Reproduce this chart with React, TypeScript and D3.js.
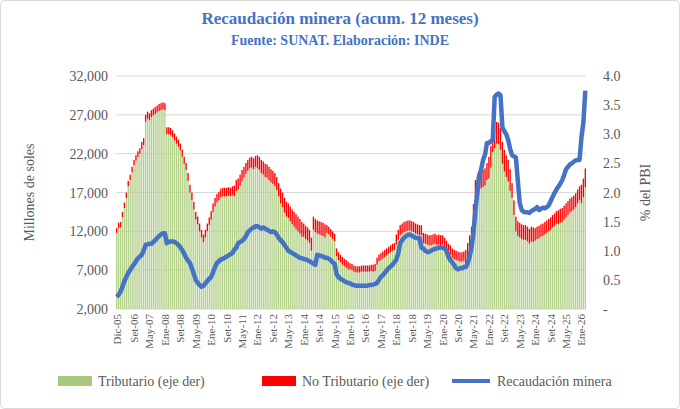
import React from "react";
import * as d3 from "d3";

const MES = ["Ene","Feb","Mar","Abr","May","Jun","Jul","Ago","Set","Oct","Nov","Dic"];
// Total (millones de soles, en miles) from Dic-05 to Mar-26
const totalK: number[] = [
  12.4,
  13.1,13.2,14.5,15.7,17.0,18.5,19.3,20.3,21.2,21.8,22.3,22.7,
  23.5,24.0,27.0,27.4,27.2,27.6,27.8,28.0,28.2,28.4,28.5,28.6,
  28.5,25.4,25.4,25.3,25.0,24.6,24.2,23.8,23.3,22.5,21.6,20.8,
  19.5,18.0,17.0,15.8,14.5,13.9,13.0,12.2,11.6,12.2,13.0,13.8,
  14.6,15.6,16.3,16.8,17.1,17.5,17.6,17.6,17.6,17.7,17.6,17.8,
  17.9,18.6,18.8,19.3,19.9,20.3,20.8,21.2,21.5,21.6,21.4,21.7,
  21.8,21.6,21.2,21.0,20.7,20.6,20.3,20.0,19.8,19.5,19.0,18.2,
  17.5,17.0,16.3,15.8,15.6,15.2,14.8,14.5,14.2,13.9,13.6,13.2,
  13.0,12.7,12.5,12.2,11.2,13.9,13.6,13.4,13.3,13.2,13.1,12.9,
  12.8,12.6,12.3,12.0,11.7,9.8,9.3,9.0,8.7,8.5,8.3,8.1,
  7.9,7.8,7.6,7.5,7.5,7.5,7.6,7.6,7.6,7.6,7.6,7.7,
  7.7,7.8,8.6,9.0,9.2,9.4,9.6,9.8,10.0,10.2,10.4,10.5,
  11.6,12.2,12.8,13.0,13.2,13.3,13.4,13.4,13.3,13.2,13.0,12.9,
  12.8,12.8,11.8,11.7,11.6,11.5,11.5,11.6,11.7,11.5,11.6,11.5,
  11.5,11.2,10.8,10.4,10.2,9.8,9.6,9.5,9.4,9.3,9.3,9.4,
  9.6,10.5,11.5,12.6,15.5,18.6,19.0,19.5,19.7,19.9,20.1,20.8,
  21.6,23.0,25.0,25.5,26.1,26.0,25.3,23.5,22.5,21.8,21.2,20.0,
  18.2,16.0,13.9,13.3,13.1,12.9,12.8,12.8,12.6,12.3,12.6,12.5,
  12.4,12.6,12.7,12.9,13.0,13.2,13.4,13.6,13.8,14.1,14.3,14.6,
  14.7,14.9,15.0,15.3,15.6,15.9,16.2,16.4,16.6,16.9,17.4,17.8,
  18.0,18.8,20.1,
];
// No tributario portion by year (2005..2026), thousands of millions
const noTribByYear: number[] = [0.6,0.7,0.9,0.9,1.0,1.1,1.4,1.7,1.9,1.7,1.0,0.8,0.9,1.3,1.3,1.2,2.2,2.8,1.9,1.6,1.8,2.4];
const pctPBI: number[] = [
  0.21,
  0.24,0.30,0.38,0.48,0.55,0.62,0.67,0.72,0.77,0.82,0.87,0.90,
  0.93,1.00,1.10,1.11,1.12,1.12,1.15,1.18,1.22,1.25,1.28,1.30,
  1.30,1.13,1.15,1.16,1.16,1.15,1.13,1.10,1.06,1.01,0.95,0.88,
  0.83,0.79,0.70,0.60,0.50,0.45,0.41,0.38,0.40,0.44,0.48,0.52,
  0.55,0.63,0.72,0.79,0.82,0.85,0.86,0.88,0.90,0.92,0.94,0.96,
  1.02,1.05,1.13,1.15,1.17,1.20,1.25,1.32,1.35,1.38,1.40,1.42,
  1.42,1.40,1.38,1.40,1.38,1.36,1.34,1.32,1.33,1.32,1.28,1.22,
  1.18,1.15,1.10,1.05,1.00,0.98,0.96,0.94,0.92,0.90,0.88,0.87,
  0.86,0.85,0.84,0.82,0.80,0.78,0.76,0.93,0.92,0.91,0.90,0.88,
  0.88,0.86,0.84,0.80,0.78,0.60,0.55,0.52,0.50,0.48,0.46,0.45,
  0.44,0.42,0.41,0.40,0.40,0.40,0.40,0.40,0.40,0.40,0.41,0.41,
  0.42,0.43,0.45,0.50,0.55,0.58,0.62,0.66,0.70,0.73,0.76,0.80,
  0.85,0.95,1.13,1.18,1.22,1.25,1.27,1.28,1.26,1.24,1.22,1.22,
  1.22,1.05,1.04,1.00,0.98,0.98,1.00,1.02,1.03,1.04,1.05,1.06,
  1.05,1.04,1.00,0.90,0.84,0.80,0.75,0.70,0.68,0.70,0.70,0.72,
  0.72,0.78,0.90,1.06,1.30,1.70,2.00,2.30,2.40,2.56,2.65,2.85,
  2.85,2.88,2.90,3.64,3.68,3.70,3.67,3.12,3.05,3.00,2.90,2.75,
  2.64,2.62,2.60,2.20,1.82,1.70,1.67,1.66,1.66,1.65,1.68,1.70,
  1.72,1.75,1.70,1.72,1.74,1.73,1.75,1.78,1.85,1.92,1.99,2.05,
  2.10,2.15,2.21,2.30,2.40,2.44,2.48,2.50,2.53,2.55,2.56,2.56,
  2.95,3.20,3.75,
];
const leftTicks = [2000,7000,12000,17000,22000,27000,32000];
const rightTicks = [0,0.5,1,1.5,2,2.5,3,3.5,4];

const months = totalK.map((_, i) => {
  const m = (11 + i) % 12;
  const y = 2005 + Math.floor((11 + i) / 12);
  return { i, label: `${MES[m]}-${String(y).slice(2)}`, year: y };
});
const labelIdx = [0, ...d3.range(9, 244, 8)];

export default function App() {
  const W = 680, H = 409;
  const L = 116, R = 586, T = 76, B = 309;
  const x = d3.scaleBand<number>().domain(months.map(d => d.i)).range([L, R]).paddingInner(0.3);
  const yL = d3.scaleLinear().domain([2000, 32000]).range([B, T]);
  const yR = d3.scaleLinear().domain([0, 4]).range([B, T]);
  const fmt = d3.format(",");
  const line = d3.line<number>().x((_, i) => (x(i) as number) + x.bandwidth() / 2).y(d => yR(d));
  const font = "Liberation Serif, DejaVu Serif, serif";
  const blue = "#4472c4";
  const gray = "#595959";
  return (
    <svg width={W} height={H} style={{ position: "absolute", left: 0, top: 0, fontFamily: font }}>
      <rect x={0.5} y={0.5} width={W - 1} height={H - 1} fill="#fff" stroke="#d9d9d9" rx={4} />
      <text x={340} y={24} textAnchor="middle" fontSize={17} fontWeight="bold" fill={blue}>Recaudación minera (acum. 12 meses)</text>
      <text x={340} y={45} textAnchor="middle" fontSize={14} fontWeight="bold" fill={blue}>Fuente: SUNAT. Elaboración: INDE</text>
      {leftTicks.map(t => (
        <g key={t}>
          {t > 2000 && <line x1={L} x2={R} y1={yL(t)} y2={yL(t)} stroke="#d9d9d9" strokeWidth={1} />}
          <text x={108} y={yL(t) + 5} textAnchor="end" fontSize={14} fill={gray}>{fmt(t)}</text>
        </g>
      ))}
      <line x1={L} x2={R} y1={B} y2={B} stroke="#d9d9d9" />
      {rightTicks.map(t => (
        <text key={t} x={603} y={yR(t) + 5} fontSize={14} fill={gray}>{t === 0 ? "-" : t.toFixed(1)}</text>
      ))}
      <text transform={`translate(34,${(T + B) / 2}) rotate(-90)`} textAnchor="middle" fontSize={14} fill={gray}>Millones de soles</text>
      <text transform={`translate(650,${(T + B) / 2}) rotate(-90)`} textAnchor="middle" fontSize={14} fill={gray}>% del PBI</text>
      {months.map(d => {
        const tot = totalK[d.i] * 1000;
        const nt = noTribByYear[d.year - 2005] * 1000;
        const tr = tot - nt;
        return (
          <g key={d.i}>
            <rect x={x(d.i)} width={x.bandwidth()} y={yL(tr)} height={B - yL(tr)} fill="#b4d18c" />
            <rect x={x(d.i)} width={x.bandwidth()} y={yL(tot)} height={yL(tr) - yL(tot)} fill="#ff0000" />
          </g>
        );
      })}
      <path d={line(pctPBI) || ""} fill="none" stroke={blue} strokeWidth={4.5} strokeLinejoin="round" />
      {labelIdx.map(i => (
        <text key={i} transform={`translate(${(x(i) as number) + x.bandwidth() / 2 + 4},${B + 5}) rotate(-90)`} textAnchor="end" fontSize={11} fill={gray}>{months[i].label}</text>
      ))}
      <rect x={58} y={376} width={34} height={10} fill="#a9c97c" />
      <text x={98} y={386} fontSize={14} fill={gray}>Tributario (eje der)</text>
      <rect x={262} y={376} width={34} height={10} fill="#ff0000" />
      <text x={302} y={386} fontSize={14} fill={gray}>No Tributario (eje der)</text>
      <line x1={452} x2={490} y1={381} y2={381} stroke={blue} strokeWidth={4} />
      <text x={497} y={386} fontSize={14} fill={gray}>Recaudación minera</text>
    </svg>
  );
}
